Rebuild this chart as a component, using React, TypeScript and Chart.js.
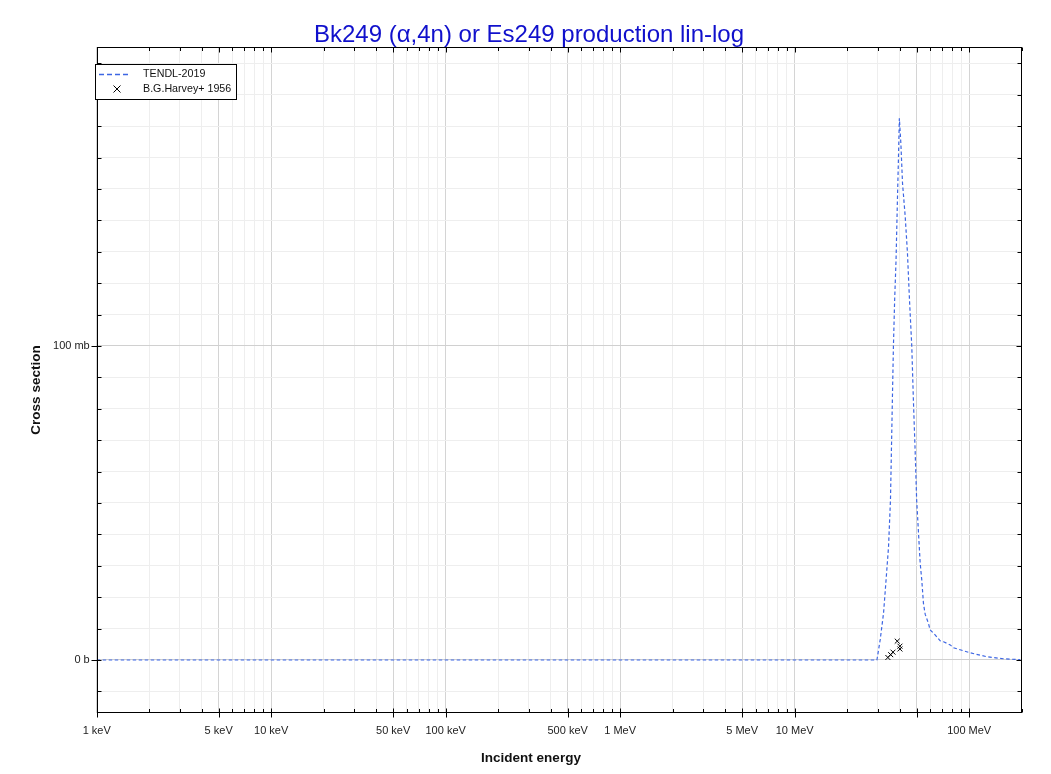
import React, { useEffect, useRef } from "react";
import { Chart, registerables } from "chart.js";

Chart.register(...registerables);

const chartTitle = "Bk249 (α,4n) or Es249 production lin-log";
const xAxisTitle = "Incident energy";
const yAxisTitle = "Cross section";

// TENDL-2019 evaluated cross section (energy in MeV, cross section in mb)
const tendlEnergyMeV = [
  0.001, 29.6, 30.9, 32.3, 33.4, 34.5, 35.4, 35.7, 36.3, 36.8, 37.4, 38.1, 38.8, 39.3,
  39.8, 40.6, 41.5, 43.0, 44.3, 45.5, 46.9, 47.9, 49.0, 50.0, 52.4, 53.5, 54.7, 56.0,
  58.4, 59.7, 63.8, 68.2, 71.3, 77.9, 81.3, 101, 126, 157, 196,
];
const tendlXsMb = [
  0, 0, 6.4, 14.9, 25.5, 36, 51, 61.6, 82.8, 99.8, 114.6, 127.4, 146.5, 159,
  172.5, 164.5, 151.8, 141.2, 129.5, 114.6, 99.8, 82.8, 66.9, 51, 30.8, 25.5, 18, 14.5,
  11.7, 9.6, 8, 6.1, 5.8, 4.8, 3.9, 2.3, 1.05, 0.4, 0.1,
];

// B.G.Harvey+ 1956 experimental points (MeV, mb)
const harveyEnergyMeV = [34.2, 35.5, 36.6, 38.7, 40.1, 40.1];
const harveyXsMb = [0.8, 1.7, 2.5, 6.0, 4.4, 3.5];

const seriesLabels = ["TENDL-2019", "B.G.Harvey+ 1956"];

// Axis ticks
const xMajorTicks = [0.001, 0.005, 0.01, 0.05, 0.1, 0.5, 1, 5, 10, 50, 100];
const xMajorLabels = [
  "1 keV", "5 keV", "10 keV", "50 keV", "100 keV", "500 keV",
  "1 MeV", "5 MeV", "10 MeV", "", "100 MeV",
];
const xMin = 0.001;
const xMax = 200;
const yMajorTicks = [0, 100];
const yMajorLabels = ["0 b", "100 mb"];
const yMin = -16.88;
const yMax = 195.2;
const yMinorStep = 10;

const FONT = '"Liberation Sans", Arial, Helvetica, sans-serif';
const TENDL_COLOR = "#3d66e3";

function buildXTicks(): number[] {
  const out: number[] = [];
  for (let d = -3; d <= 2; d++) {
    for (let m = 1; m <= 9; m++) {
      const v = parseFloat((m * Math.pow(10, d)).toPrecision(6));
      if (v >= xMin - 1e-12 && v <= xMax + 1e-9) out.push(v);
    }
  }
  return out;
}
function buildYTicks(): number[] {
  const out: number[] = [];
  for (let v = Math.ceil(yMin / yMinorStep) * yMinorStep; v <= yMax; v += yMinorStep) out.push(v);
  return out;
}
const xAllTicks = buildXTicks();
const yAllTicks = buildYTicks();

function near(a: number, b: number) {
  return Math.abs(a - b) <= Math.abs(b) * 1e-6 + 1e-12;
}
function xMajorIndex(v: number) {
  return xMajorTicks.findIndex((t) => near(v, t));
}
function yMajorIndex(v: number) {
  return yMajorTicks.findIndex((t) => Math.abs(v - t) < 1e-9);
}

const decorPlugin = {
  id: "decor",
  afterDraw(chart: any) {
    const ctx = chart.ctx as CanvasRenderingContext2D;
    const a = chart.chartArea;
    const xs = chart.scales.x;
    const ys = chart.scales.y;
    ctx.save();
    // frame
    ctx.strokeStyle = "#000";
    ctx.lineWidth = 1;
    const L = Math.round(a.left) + 0.5;
    const R = Math.round(a.right) - 0.5;
    const T = Math.round(a.top) + 0.5;
    const B = Math.round(a.bottom) - 0.5;
    ctx.strokeRect(L, T, R - L, B - T);
    // x ticks
    ctx.beginPath();
    for (const v of xAllTicks) {
      const px = Math.round(xs.getPixelForValue(v)) + 0.5;
      const major = xMajorIndex(v) >= 0;
      if (major) {
        ctx.moveTo(px, B - 4);
        ctx.lineTo(px, B + 5);
        ctx.moveTo(px, T);
        ctx.lineTo(px, T + 5);
      } else {
        ctx.moveTo(px, B);
        ctx.lineTo(px, B - 3.5);
        ctx.moveTo(px, T);
        ctx.lineTo(px, T + 3.5);
      }
    }
    // y ticks
    for (const v of yAllTicks) {
      const py = Math.round(ys.getPixelForValue(v)) + 0.5;
      const major = yMajorIndex(v) >= 0;
      if (major) {
        ctx.moveTo(L - 6, py);
        ctx.lineTo(L + 4, py);
        ctx.moveTo(R, py);
        ctx.lineTo(R - 5, py);
      } else {
        ctx.moveTo(L, py);
        ctx.lineTo(L + 4, py);
        ctx.moveTo(R, py);
        ctx.lineTo(R - 4, py);
      }
    }
    ctx.stroke();

    // title
    ctx.fillStyle = "#1010cc";
    ctx.font = `24px ${FONT}`;
    ctx.textAlign = "center";
    ctx.textBaseline = "alphabetic";
    ctx.fillText(chartTitle, 529, 41.5);

    // axis titles
    ctx.fillStyle = "#111";
    ctx.font = `bold 13.5px ${FONT}`;
    ctx.textBaseline = "middle";
    ctx.fillText(xAxisTitle, 531, 758);
    ctx.save();
    ctx.translate(36, 390);
    ctx.rotate(-Math.PI / 2);
    ctx.fillText(yAxisTitle, 0, 0);
    ctx.restore();

    // legend
    const bx = 95.5, by = 64.5, bw = 141, bh = 35;
    ctx.fillStyle = "#fff";
    ctx.fillRect(bx, by, bw, bh);
    ctx.strokeStyle = "#000";
    ctx.lineWidth = 1;
    ctx.strokeRect(bx, by, bw, bh);
    const row1 = 74.5, row2 = 89;
    ctx.strokeStyle = TENDL_COLOR;
    ctx.lineWidth = 1.5;
    ctx.setLineDash([5, 3]);
    ctx.beginPath();
    ctx.moveTo(99, row1);
    ctx.lineTo(128, row1);
    ctx.stroke();
    ctx.setLineDash([]);
    ctx.strokeStyle = "#000";
    ctx.lineWidth = 1;
    ctx.beginPath();
    const cx = 117, s = 3.5;
    ctx.moveTo(cx - s, row2 - s);
    ctx.lineTo(cx + s, row2 + s);
    ctx.moveTo(cx - s, row2 + s);
    ctx.lineTo(cx + s, row2 - s);
    ctx.stroke();
    ctx.fillStyle = "#111";
    ctx.font = `10.7px ${FONT}`;
    ctx.textAlign = "left";
    ctx.textBaseline = "middle";
    ctx.fillText(seriesLabels[0], 143, row1);
    ctx.fillText(seriesLabels[1], 143, row2);
    ctx.restore();
  },
};

export default function App() {
  const canvasRef = useRef<HTMLCanvasElement | null>(null);
  useEffect(() => {
    const canvas = canvasRef.current;
    if (!canvas) return;
    const chart = new Chart(canvas, {
      type: "scatter",
      data: {
        datasets: [
          {
            label: seriesLabels[1],
            data: harveyEnergyMeV.map((x, i) => ({ x, y: harveyXsMb[i] })),
            showLine: false,
            pointStyle: "crossRot",
            pointRadius: 3.5,
            pointBorderColor: "#000",
            borderColor: "#000",
            pointBorderWidth: 1,
            order: 1,
          } as any,
          {
            label: seriesLabels[0],
            data: tendlEnergyMeV.map((x, i) => ({ x, y: tendlXsMb[i] })),
            showLine: true,
            borderColor: TENDL_COLOR,
            borderWidth: 1.2,
            borderDash: [3.5, 2.5],
            pointRadius: 0,
            tension: 0,
            fill: false,
            order: 2,
          } as any,
        ],
      },
      options: {
        animation: false,
        responsive: false,
        devicePixelRatio: 1,
        layout: { padding: { left: 36.7, right: 29.3, top: 47, bottom: 31 } },
        plugins: {
          legend: { display: false },
          title: { display: false },
          tooltip: { enabled: false },
        },
        scales: {
          x: {
            type: "logarithmic",
            min: xMin,
            max: xMax,
            afterBuildTicks: (sc: any) => {
              sc.ticks = xAllTicks.map((v) => ({ value: v }));
            },
            afterFit: (sc: any) => {
              sc.height = 30;
            },
            border: { display: false },
            grid: {
              drawTicks: false,
              lineWidth: 1,
              color: (c: any) =>
                c.tick && xMajorIndex(c.tick.value) >= 0 ? "#d4d4d4" : "#eeeeee",
            },
            ticks: {
              autoSkip: false,
              maxRotation: 0,
              minRotation: 0,
              padding: 11,
              color: "#222",
              font: { family: FONT, size: 11 },
              callback: (v: any) => {
                const i = xMajorIndex(Number(v));
                return i >= 0 ? xMajorLabels[i] : "";
              },
            },
          },
          y: {
            type: "linear",
            min: yMin,
            max: yMax,
            afterBuildTicks: (sc: any) => {
              sc.ticks = yAllTicks.map((v) => ({ value: v }));
            },
            afterFit: (sc: any) => {
              sc.width = 60;
            },
            border: { display: false },
            grid: {
              drawTicks: false,
              lineWidth: 1,
              color: (c: any) =>
                c.tick && yMajorIndex(c.tick.value) >= 0 ? "#d0d0d0" : "#eeeeee",
            },
            ticks: {
              autoSkip: false,
              padding: 7,
              color: "#222",
              font: { family: FONT, size: 11 },
              callback: (v: any) => {
                const i = yMajorIndex(Number(v));
                return i >= 0 ? yMajorLabels[i] : "";
              },
            },
          },
        },
      } as any,
      plugins: [decorPlugin],
    });
    return () => chart.destroy();
  }, []);

  return (
    <div style={{ position: "fixed", left: 0, top: 0, width: 1051, height: 774, background: "#fff" }}>
      <canvas ref={canvasRef} width={1051} height={774} style={{ display: "block" }} />
    </div>
  );
}
